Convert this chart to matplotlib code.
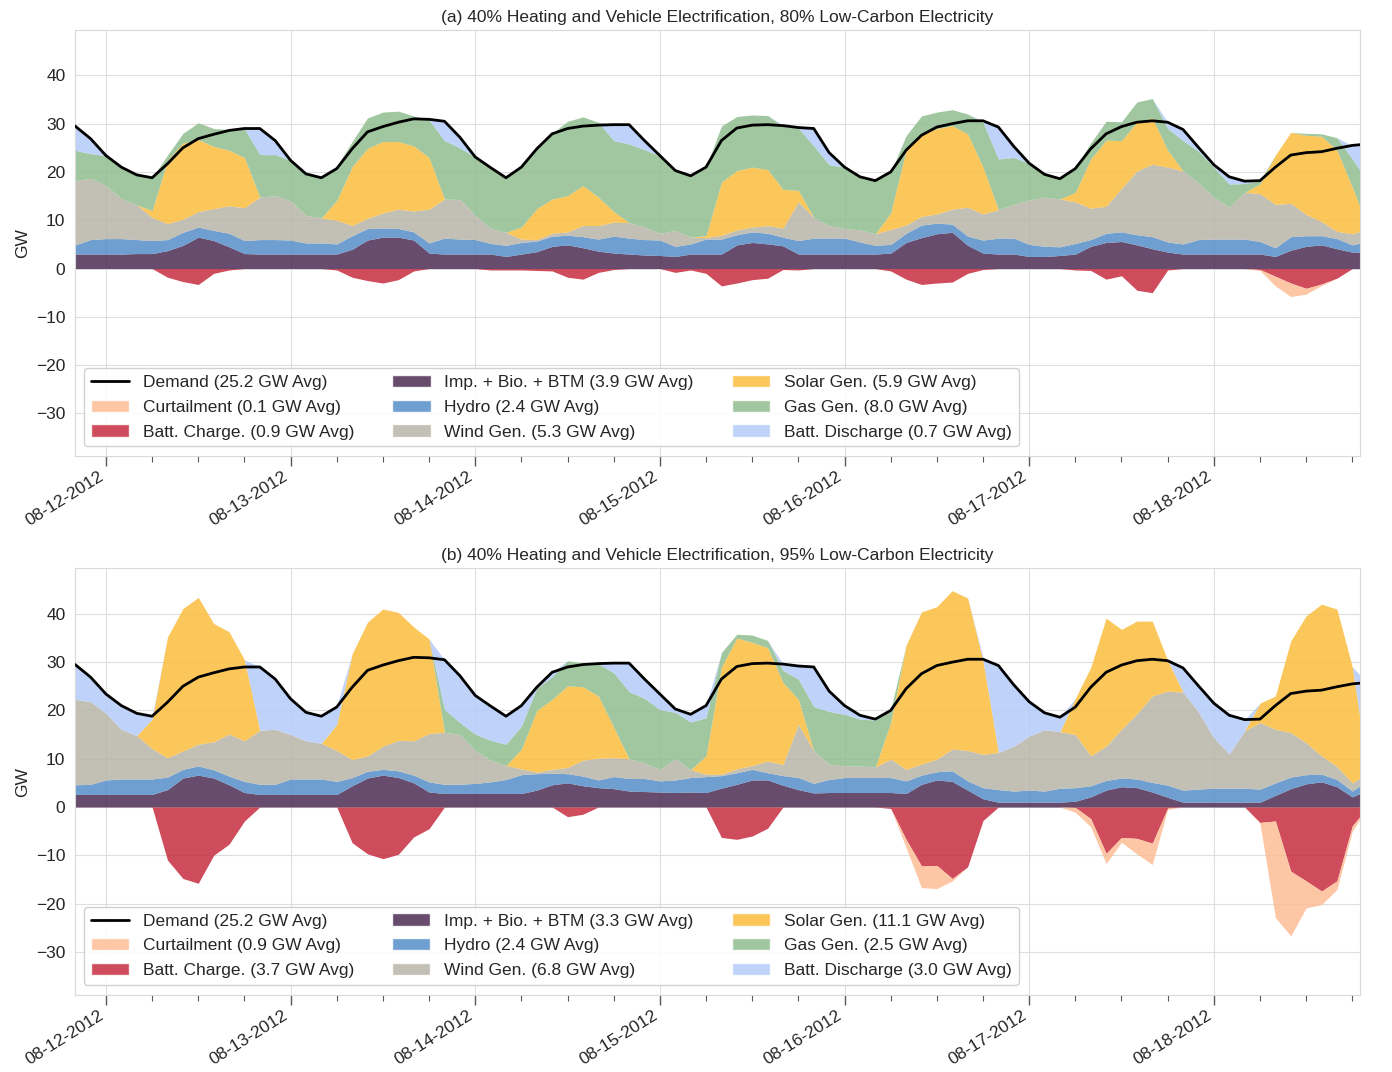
import matplotlib
matplotlib.use("Agg")
import matplotlib.pyplot as plt
import matplotlib.dates as mdates
from matplotlib.patches import Patch
from matplotlib.lines import Line2D
import numpy as np
import pandas as pd
import seaborn as sns

# ==========================================================
# Data (2-hourly), GW
# ==========================================================

times = pd.date_range("2012-08-11 20:00", periods=85, freq="2h")

demand = [
    29.5, 26.9, 23.4, 21.0, 19.4, 18.8, 21.7, 25.0, 26.9, 27.8,
    28.6, 29.0, 29.0, 26.5, 22.4, 19.6, 18.8, 20.7, 24.8, 28.3,
    29.4, 30.3, 31.0, 30.9, 30.5, 27.2, 23.1, 20.9, 18.8, 21.0,
    24.8, 27.9, 29.0, 29.5, 29.7, 29.8, 29.8, 26.5, 23.4, 20.3,
    19.2, 21.0, 26.5, 29.1, 29.7, 29.8, 29.6, 29.2, 29.0, 24.0,
    21.0, 19.0, 18.2, 20.0, 24.5, 27.6, 29.3, 30.0, 30.6, 30.6,
    29.3, 25.3, 21.8, 19.5, 18.6, 20.7, 24.8, 27.9, 29.4, 30.3,
    30.6, 30.3, 28.8, 25.1, 21.5, 19.0, 18.1, 18.2, 21.0, 23.5,
    24.0, 24.2, 24.9, 25.5, 25.8,
]

# ---- (a) 80% low-carbon ----
imp_a = [
    3.0, 3.0, 3.0, 3.0, 3.1, 3.1, 3.7, 4.8, 6.5, 5.8,
    4.5, 3.1, 3.0, 3.0, 3.0, 3.0, 3.0, 3.0, 4.0, 5.9,
    6.5, 6.5, 5.9, 3.2, 3.0, 3.0, 3.0, 3.0, 2.5, 3.0,
    3.5, 4.6, 4.9, 4.3, 3.6, 3.2, 3.0, 2.8, 2.7, 2.5,
    3.0, 3.0, 3.0, 4.9, 5.4, 5.1, 4.7, 3.0, 3.0, 3.0,
    3.0, 3.0, 3.0, 3.2, 5.4, 6.4, 7.2, 7.5, 4.8, 3.2,
    3.0, 3.0, 2.5, 2.5, 2.7, 3.0, 4.6, 5.4, 5.6, 4.9,
    4.1, 3.4, 3.0, 3.0, 3.0, 3.0, 3.0, 3.0, 2.5, 3.8,
    4.6, 4.9, 4.1, 3.4, 3.4,
]
hydro_a = [
    1.9, 3.0, 3.2, 3.2, 2.9, 2.7, 2.3, 2.7, 2.1, 2.1,
    2.8, 2.7, 3.0, 3.0, 2.9, 2.3, 2.3, 2.1, 2.8, 2.4,
    1.9, 1.8, 1.7, 2.1, 3.3, 3.1, 3.0, 2.2, 2.3, 2.4,
    2.2, 2.1, 2.0, 2.3, 2.5, 3.5, 3.3, 3.2, 3.2, 2.1,
    2.1, 3.1, 3.1, 2.1, 2.2, 2.2, 1.8, 2.8, 3.3, 3.3,
    3.3, 2.5, 1.8, 1.8, 1.9, 2.6, 2.2, 1.7, 1.9, 2.7,
    3.3, 3.3, 2.5, 2.1, 1.8, 2.2, 1.4, 1.9, 2.0, 2.1,
    2.5, 2.1, 2.1, 3.0, 3.1, 3.1, 3.1, 2.6, 1.8, 2.8,
    2.2, 1.9, 2.1, 1.5, 2.2,
]
wind_a = [
    13.3, 12.7, 11.0, 8.3, 7.2, 4.8, 3.3, 2.7, 3.2, 4.5,
    5.7, 6.8, 8.8, 9.1, 8.1, 5.7, 5.2, 4.9, 2.1, 2.1,
    3.1, 4.0, 4.3, 7.0, 8.1, 8.2, 5.0, 3.1, 2.7, 0.7,
    0.3, 0.6, 0.7, 2.3, 2.8, 2.9, 3.2, 2.6, 1.4, 3.3,
    1.4, 0.3, 0.8, 1.0, 1.0, 1.6, 1.9, 8.0, 4.3, 2.6,
    2.0, 2.5, 2.4, 3.1, 1.7, 1.8, 1.9, 3.1, 6.0, 5.4,
    5.9, 7.0, 9.2, 10.2, 9.9, 8.6, 6.5, 5.6, 9.0, 13.2,
    15.0, 15.5, 15.1, 11.7, 8.7, 6.6, 9.7, 9.9, 9.0, 6.9,
    4.4, 2.9, 1.5, 2.3, 2.6,
]
solar_a = [
    0.0, 0.0, 0.0, 0.0, 0.0, 1.4, 13.1, 15.8, 14.9, 12.9,
    11.5, 10.4, 0.0, 0.0, 0.0, 0.0, 0.0, 4.1, 12.2, 14.5,
    14.8, 14.0, 13.5, 10.7, 0.0, 0.0, 0.0, 0.0, 0.0, 2.5,
    6.4, 7.1, 7.5, 8.3, 5.9, 2.2, 0.0, 0.0, 0.0, 0.0,
    0.0, 0.4, 11.0, 12.3, 12.4, 11.6, 8.0, 2.4, 0.0, 0.0,
    0.0, 0.0, 0.0, 3.4, 15.5, 17.2, 17.7, 17.3, 15.2, 9.7,
    0.0, 0.0, 0.0, 0.0, 0.0, 2.0, 10.2, 13.7, 9.9, 10.1,
    9.6, 3.5, 0.0, 0.0, 0.0, 0.0, 0.0, 2.0, 10.2, 14.7,
    16.4, 17.7, 16.8, 9.7, 0.4,
]
gas_a = [
    6.3, 5.1, 6.2, 6.5, 6.2, 6.8, 1.1, 2.0, 3.5, 3.7,
    4.3, 6.0, 8.8, 8.5, 8.4, 8.6, 8.3, 7.1, 5.2, 6.3,
    6.1, 6.3, 6.2, 7.8, 12.1, 10.7, 12.1, 12.6, 11.3, 12.4,
    12.4, 13.6, 15.4, 14.2, 15.5, 14.7, 16.3, 16.0, 16.1, 12.4,
    12.7, 14.2, 11.6, 11.2, 10.8, 11.2, 13.1, 12.9, 14.8, 12.6,
    12.7, 11.0, 11.0, 8.5, 3.0, 3.6, 3.4, 3.3, 4.1, 9.3,
    10.5, 9.7, 7.6, 4.7, 4.2, 5.2, 3.3, 3.9, 3.9, 4.2,
    4.0, 4.5, 6.3, 6.6, 6.2, 4.8, 1.8, 0.7, 0.0, 0.0,
    0.4, 0.5, 2.6, 5.8, 9.4,
]
discharge_a = [
    5.0, 3.1, 0.0, 0.0, 0.0, 0.0, 0.0, 0.0, 0.0, 0.0,
    0.0, 0.0, 5.4, 2.9, 0.0, 0.0, 0.0, 0.0, 0.0, 0.0,
    0.0, 0.0, 0.0, 0.0, 4.0, 2.2, 0.0, 0.0, 0.0, 0.0,
    0.0, 0.0, 0.0, 0.0, 0.0, 3.3, 4.0, 1.9, 0.0, 0.0,
    0.0, 0.0, 0.0, 0.0, 0.0, 0.0, 0.2, 0.1, 3.6, 2.5,
    0.0, 0.0, 0.0, 0.0, 0.0, 0.0, 0.0, 0.0, 0.0, 0.3,
    6.6, 2.3, 0.0, 0.0, 0.0, 0.0, 0.0, 0.0, 0.0, 0.0,
    0.0, 1.3, 2.3, 0.8, 0.5, 1.5, 0.5, 0.0, 0.0, 0.0,
    0.0, 0.0, 0.0, 2.7, 7.7,
]
charge_a = [
    0.0, 0.0, 0.0, 0.0, 0.0, 0.0, 1.8, 2.7, 3.3, 1.0,
    0.3, 0.0, 0.0, 0.0, 0.0, 0.0, 0.0, 0.3, 1.8, 2.5,
    3.0, 2.3, 0.5, 0.0, 0.0, 0.0, 0.0, 0.3, 0.3, 0.3,
    0.4, 0.5, 1.8, 2.2, 0.8, 0.2, 0.0, 0.0, 0.0, 0.8,
    0.3, 1.0, 3.6, 3.0, 2.3, 2.0, 0.2, 0.3, 0.0, 0.0,
    0.0, 0.0, 0.0, 0.5, 2.2, 3.3, 3.0, 2.8, 1.0, 0.2,
    0.0, 0.0, 0.0, 0.0, 0.0, 0.3, 0.4, 2.2, 1.5, 4.5,
    5.0, 0.3, 0.0, 0.0, 0.0, 0.0, 0.0, 0.2, 1.6, 3.0,
    4.1, 3.2, 2.0, 0.0, 0.0,
]
curtail_a = [
    0.0, 0.0, 0.0, 0.0, 0.0, 0.0, 0.0, 0.0, 0.0, 0.0,
    0.0, 0.0, 0.0, 0.0, 0.0, 0.0, 0.0, 0.0, 0.0, 0.0,
    0.0, 0.0, 0.0, 0.0, 0.0, 0.0, 0.0, 0.0, 0.0, 0.0,
    0.0, 0.0, 0.0, 0.0, 0.0, 0.0, 0.0, 0.0, 0.0, 0.0,
    0.0, 0.0, 0.0, 0.0, 0.0, 0.0, 0.0, 0.0, 0.0, 0.0,
    0.0, 0.0, 0.0, 0.0, 0.0, 0.0, 0.0, 0.0, 0.0, 0.0,
    0.0, 0.0, 0.0, 0.0, 0.0, 0.0, 0.0, 0.0, 0.0, 0.0,
    0.0, 0.0, 0.0, 0.0, 0.0, 0.0, 0.0, 0.2, 2.0, 2.8,
    1.2, 0.3, 0.0, 0.0, 0.0,
]

# ---- (b) 95% low-carbon ----
imp_b = [
    2.6, 2.6, 2.6, 2.6, 2.6, 2.6, 3.6, 6.0, 6.6, 6.0,
    4.6, 3.0, 2.6, 2.6, 2.6, 2.6, 2.6, 2.6, 4.4, 6.0,
    6.6, 6.1, 5.0, 3.1, 2.8, 2.8, 2.8, 2.8, 2.8, 2.8,
    3.5, 4.6, 5.0, 4.4, 4.0, 3.8, 3.3, 3.2, 3.1, 3.0,
    3.1, 3.0, 3.9, 4.7, 5.6, 5.6, 4.5, 3.6, 2.9, 3.0,
    3.0, 3.0, 3.0, 3.0, 2.8, 4.7, 5.6, 5.3, 3.5, 1.7,
    1.0, 1.0, 1.0, 1.0, 1.0, 1.2, 2.1, 3.5, 4.2, 4.0,
    3.1, 2.0, 1.0, 1.0, 1.0, 1.0, 1.0, 1.0, 2.4, 3.8,
    4.8, 5.2, 4.2, 2.1, 3.5,
]
hydro_b = [
    2.0, 2.1, 3.0, 3.2, 3.2, 3.2, 2.6, 1.8, 1.9, 1.7,
    1.8, 2.3, 2.1, 2.1, 3.2, 3.2, 3.2, 2.7, 1.7, 1.4,
    1.2, 1.4, 1.6, 2.1, 1.9, 1.9, 2.1, 2.4, 2.9, 3.9,
    3.4, 2.4, 1.9, 2.0, 1.6, 2.5, 2.6, 2.7, 2.3, 2.6,
    3.0, 3.3, 2.6, 2.4, 2.2, 1.5, 2.0, 2.5, 2.0, 2.7,
    3.1, 3.1, 3.1, 3.1, 2.6, 1.9, 1.7, 2.2, 1.9, 2.3,
    2.6, 2.3, 2.5, 2.3, 2.9, 2.8, 2.3, 2.0, 1.8, 1.8,
    2.0, 2.5, 2.5, 2.7, 2.9, 2.9, 2.9, 2.7, 2.6, 2.4,
    1.9, 1.6, 1.5, 1.2, 2.0,
]
wind_b = [
    17.7, 17.1, 13.8, 10.3, 9.0, 6.3, 4.0, 3.8, 4.5, 5.8,
    8.7, 8.4, 11.2, 11.4, 9.2, 7.9, 7.4, 6.4, 3.7, 3.2,
    4.8, 6.3, 7.1, 10.0, 10.8, 10.3, 6.8, 4.5, 2.9, 1.2,
    0.3, 0.8, 1.3, 3.3, 4.5, 3.9, 4.1, 3.2, 2.4, 4.4,
    1.6, 0.5, 0.3, 0.8, 0.8, 2.4, 2.3, 11.0, 6.7, 3.2,
    2.4, 2.4, 2.2, 3.8, 2.4, 2.3, 2.6, 4.5, 6.3, 6.9,
    7.7, 9.3, 11.2, 12.7, 11.7, 11.0, 6.2, 7.1, 10.1, 13.5,
    17.9, 19.5, 20.3, 16.0, 10.4, 7.1, 11.9, 13.8, 11.1, 9.2,
    6.6, 3.8, 2.7, 1.7, 1.5,
]
solar_b = [
    0.0, 0.0, 0.0, 0.0, 0.0, 6.1, 25.0, 29.5, 30.4, 24.5,
    21.2, 16.8, 0.0, 0.0, 0.0, 0.0, 0.0, 5.4, 21.9, 27.7,
    28.4, 26.5, 23.6, 19.6, 0.0, 0.0, 0.0, 0.0, 0.0, 4.1,
    12.8, 14.5, 16.9, 15.2, 12.9, 6.3, 0.0, 0.0, 0.0, 0.0,
    0.0, 3.8, 22.2, 27.1, 25.5, 23.5, 17.0, 5.2, 0.0, 0.0,
    0.0, 0.0, 0.0, 7.6, 25.7, 31.5, 31.6, 32.8, 31.6, 19.4,
    0.0, 0.0, 0.0, 0.0, 0.0, 7.5, 18.3, 26.5, 20.7, 19.2,
    15.5, 6.4, 0.0, 0.0, 0.0, 0.0, 0.0, 4.0, 6.9, 19.0,
    26.3, 31.4, 32.6, 24.0, 1.0,
]
gas_b = [
    0.0, 0.0, 0.0, 0.0, 0.0, 0.0, 0.0, 0.0, 0.0, 0.0,
    0.0, 0.0, 0.0, 0.0, 0.0, 0.0, 0.0, 0.0, 0.0, 0.0,
    0.0, 0.0, 0.0, 0.0, 4.7, 2.5, 3.4, 4.1, 4.4, 4.8,
    4.6, 4.7, 5.2, 4.9, 6.7, 11.3, 13.9, 13.4, 12.4, 9.6,
    9.9, 7.9, 3.0, 0.8, 1.5, 1.5, 2.5, 4.2, 9.2, 10.9,
    10.7, 9.7, 9.7, 2.7, 0.0, 0.0, 0.0, 0.0, 0.0, 0.0,
    0.0, 0.0, 0.0, 0.0, 0.0, 0.0, 0.0, 0.0, 0.0, 0.0,
    0.0, 0.0, 0.0, 0.0, 0.0, 0.0, 0.0, 0.0, 0.0, 0.0,
    0.0, 0.0, 0.0, 0.0, 0.0,
]
discharge_b = [
    7.2, 5.1, 4.0, 4.9, 4.6, 0.6, 0.0, 0.0, 0.0, 0.0,
    0.0, 0.0, 13.1, 10.4, 7.4, 5.9, 5.6, 3.9, 0.0, 0.0,
    0.0, 0.0, 0.0, 0.0, 10.3, 9.7, 8.0, 7.1, 5.8, 4.2,
    0.2, 0.9, 0.0, 0.0, 0.0, 2.0, 5.9, 4.0, 3.2, 0.7,
    1.6, 2.5, 0.0, 0.0, 0.0, 0.0, 1.3, 2.7, 8.2, 4.2,
    1.8, 0.8, 0.2, 0.0, 0.0, 0.0, 0.0, 0.0, 0.0, 0.7,
    18.0, 12.7, 7.1, 3.5, 3.0, 0.0, 0.0, 0.0, 0.0, 0.0,
    0.0, 0.0, 5.0, 5.4, 7.2, 8.0, 2.3, 0.0, 0.0, 0.0,
    0.0, 0.0, 0.0, 0.0, 17.7,
]
charge_b = [
    0.0, 0.0, 0.0, 0.0, 0.0, 0.0, 11.0, 14.8, 15.8, 10.0,
    7.7, 2.9, 0.0, 0.0, 0.0, 0.0, 0.0, 0.0, 7.4, 9.7,
    10.7, 9.8, 6.2, 4.5, 0.0, 0.0, 0.0, 0.0, 0.0, 0.0,
    0.0, 0.0, 2.0, 1.5, 0.0, 0.0, 0.0, 0.0, 0.0, 0.0,
    0.0, 0.0, 6.3, 6.7, 6.0, 4.4, 0.0, 0.0, 0.0, 0.0,
    0.0, 0.0, 0.0, 0.3, 6.7, 12.2, 12.1, 14.8, 12.4, 2.8,
    0.0, 0.0, 0.0, 0.0, 0.0, 0.1, 2.4, 9.6, 6.3, 6.5,
    7.5, 0.2, 0.0, 0.0, 0.0, 0.0, 0.0, 3.2, 2.9, 13.3,
    15.3, 17.4, 15.3, 3.9, 0.0,
]
curtail_b = [
    0.0, 0.0, 0.0, 0.0, 0.0, 0.0, 0.0, 0.0, 0.0, 0.0,
    0.0, 0.0, 0.0, 0.0, 0.0, 0.0, 0.0, 0.0, 0.0, 0.0,
    0.0, 0.0, 0.0, 0.0, 0.0, 0.0, 0.0, 0.0, 0.0, 0.0,
    0.0, 0.0, 0.0, 0.0, 0.0, 0.0, 0.0, 0.0, 0.0, 0.0,
    0.0, 0.0, 0.0, 0.0, 0.0, 0.0, 0.0, 0.0, 0.0, 0.0,
    0.0, 0.0, 0.0, 0.0, 1.7, 4.5, 4.8, 0.5, 0.0, 0.0,
    0.0, 0.0, 0.0, 0.0, 0.0, 1.0, 1.7, 2.1, 1.0, 3.2,
    4.4, 0.3, 0.0, 0.0, 0.0, 0.0, 0.0, 0.2, 20.0, 13.4,
    5.6, 2.8, 1.8, 1.1, 0.0,
]

titles = [
    "(a) 40% Heating and Vehicle Electrification, 80% Low-Carbon Electricity",
    "(b) 40% Heating and Vehicle Electrification, 95% Low-Carbon Electricity",
]
avg_labels = [
    ["25.2", "0.1", "0.9", "3.9", "2.4", "5.3", "5.9", "8.0", "0.7"],
    ["25.2", "0.9", "3.7", "3.3", "2.4", "6.8", "11.1", "2.5", "3.0"],
]
names = ["Demand", "Curtailment", "Batt. Charge.", "Imp. + Bio. + BTM", "Hydro",
         "Wind Gen.", "Solar Gen.", "Gas Gen.", "Batt. Discharge"]

ALPHA = 0.85
C_CURT = "#fdbd96"
C_CHARGE = "#c62c3e"
C_STACK = ["#4c2c53", "#568ec9", "#b8b5a7", "#fbbd3e", "#90be8f", "#b4cbf9"]

# ==========================================================
# Style
# ==========================================================

sns.set_style("whitegrid")
plt.rcParams["font.family"] = ["Liberation Sans", "DejaVu Sans"]
plt.rcParams["xtick.bottom"] = True
plt.rcParams["xtick.color"] = "0.35"
plt.rcParams["xtick.labelcolor"] = "0.15"
plt.rcParams["axes.edgecolor"] = "0.85"
plt.rcParams["grid.color"] = "0.87"

fig, axes = plt.subplots(2, 1, figsize=(13.92, 10.72), dpi=100)
fig.subplots_adjust(left=0.054, right=0.977, top=0.972, bottom=0.072, hspace=0.263)

panels = [
    (imp_a, hydro_a, wind_a, solar_a, gas_a, discharge_a, charge_a, curtail_a),
    (imp_b, hydro_b, wind_b, solar_b, gas_b, discharge_b, charge_b, curtail_b),
]

x = times.values
for ax, data, title, avgs in zip(axes, panels, titles, avg_labels):
    imp, hydro, wind, solar, gas, dis, charge, curt = [np.array(d) for d in data]

    ax.stackplot(x, imp, hydro, wind, solar, gas, dis,
                 colors=C_STACK, alpha=ALPHA, linewidth=0)
    ax.fill_between(x, 0, -charge, color=C_CHARGE, alpha=ALPHA, linewidth=0)
    ax.fill_between(x, -charge, -charge - curt, color=C_CURT, alpha=ALPHA, linewidth=0)
    ax.plot(x, demand, color="black", linewidth=2.0, zorder=5,
            solid_joinstyle="round", solid_capstyle="round")

    ax.set_xlim(pd.Timestamp("2012-08-11 20:00"), pd.Timestamp("2012-08-18 19:00"))
    ax.set_ylim(-38.9, 49.4)
    ax.set_yticks(np.arange(-30, 41, 10))
    ax.set_ylabel("GW", fontsize=12.5)
    ax.set_title(title, fontsize=12.5, color="0.15", pad=6)

    ax.xaxis.set_major_locator(mdates.DayLocator())
    ax.xaxis.set_major_formatter(mdates.DateFormatter("%m-%d-%Y"))
    ax.xaxis.set_minor_locator(mdates.HourLocator(byhour=[6, 12, 18]))
    ax.tick_params(axis="x", which="major", length=7, width=1, labelsize=12.5, pad=2)
    ax.tick_params(axis="x", which="minor", length=4, width=0.8)
    ax.tick_params(axis="y", labelsize=12.5)
    fig.canvas.draw()
    for lab in ax.get_xticklabels():
        lab.set_rotation(32)
        lab.set_horizontalalignment("right")

    handles = [Line2D([0], [0], color="black", linewidth=2.0),
               Patch(facecolor=C_CURT, alpha=ALPHA),
               Patch(facecolor=C_CHARGE, alpha=ALPHA)]
    handles += [Patch(facecolor=c, alpha=ALPHA) for c in C_STACK]
    labels = [f"{n} ({a} GW Avg)" for n, a in zip(names, avgs)]
    ax.legend(handles, labels, ncol=3, loc="lower left", fontsize=12.5,
              bbox_to_anchor=(0.004, 0.015), borderaxespad=0.2,
              frameon=True, edgecolor="0.8", framealpha=0.9,
              handlelength=2.2, columnspacing=2.2, labelspacing=0.55)

fig.savefig("out.png", dpi=100)
